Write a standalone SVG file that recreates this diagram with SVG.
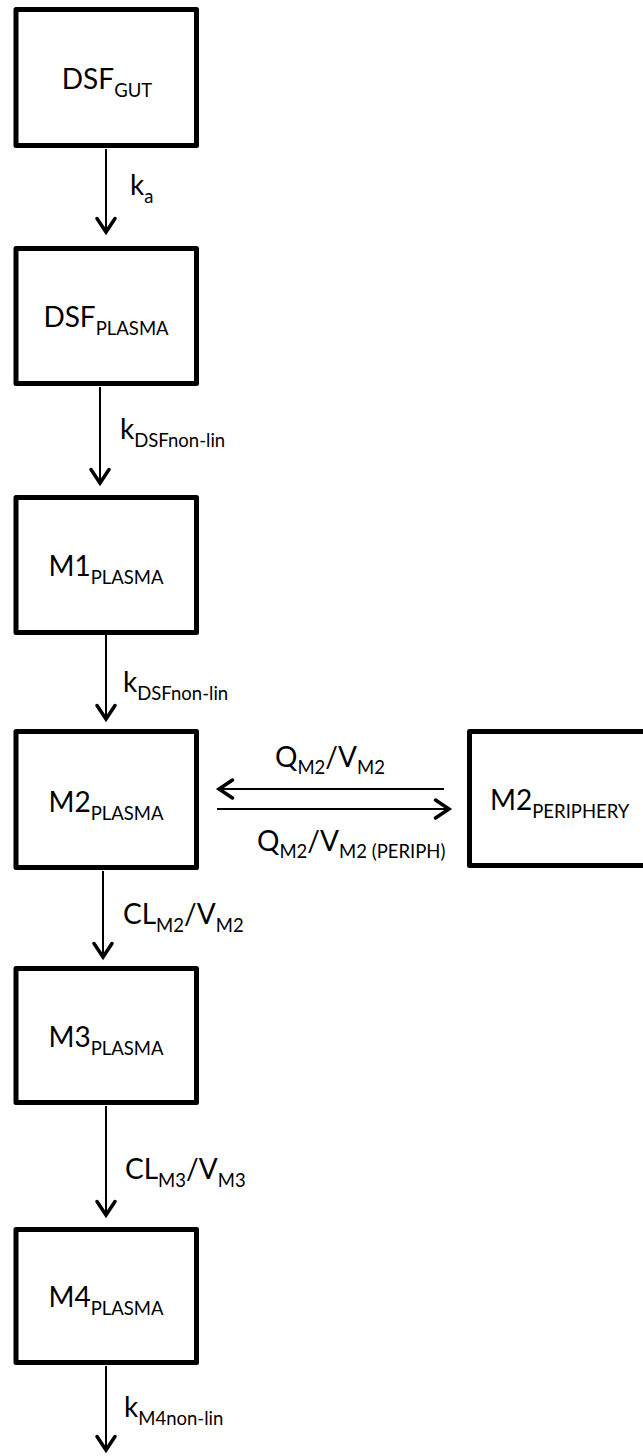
<svg xmlns="http://www.w3.org/2000/svg" width="643" height="1456" viewBox="0 0 643 1456">
  <style>
    .box { fill: #fff; stroke: #000; stroke-width: 5; stroke-linejoin: round; }
    .t { font-family: Lato, "Open Sans", "Liberation Sans", sans-serif; font-size: 28px; fill: #000; }
    .c { text-anchor: middle; }
    .s { font-size: 18.5px; }
    .edge { stroke: #000; stroke-width: 2; fill: none; marker-end: url(#ah); }
  </style>
  <defs>
    <marker id="ah" markerUnits="userSpaceOnUse" orient="auto" viewBox="-20 -15 30 30" markerWidth="30" markerHeight="30" refX="0" refY="0" overflow="visible">
      <path d="M-13.5,-9 L0,0 L-13.5,9" fill="none" stroke="#000" stroke-width="3.5" stroke-linecap="round" stroke-linejoin="miter"/>
    </marker>
  </defs>

  <rect width="643" height="1456" fill="#fff"/>

  <!-- connectors -->
  <g id="connectors">
    <line class="edge" x1="106" y1="149" x2="106" y2="232"/>
    <line class="edge" x1="100" y1="387" x2="100" y2="483"/>
    <line class="edge" x1="106" y1="635" x2="106" y2="719"/>
    <line class="edge" x1="103" y1="871" x2="103" y2="957"/>
    <line class="edge" x1="106" y1="1106" x2="106" y2="1215"/>
    <line class="edge" x1="106" y1="1366" x2="106" y2="1450"/>
    <line class="edge" x1="444" y1="789" x2="219" y2="789"/>
    <line class="edge" x1="217" y1="809" x2="449" y2="809"/>

    <text class="t" x="130" y="195">k<tspan class="s" dy="8">a</tspan></text>
    <text class="t" x="120" y="439">k<tspan class="s" dy="8">DSFnon-lin</tspan></text>
    <text class="t" x="123" y="692">k<tspan class="s" dy="8">DSFnon-lin</tspan></text>
    <text class="t" x="123" y="924">CL<tspan class="s" dy="8">M2</tspan><tspan dy="-8">/V</tspan><tspan class="s" dy="8">M2</tspan></text>
    <text class="t" x="125" y="1179">CL<tspan class="s" dy="8">M3</tspan><tspan dy="-8">/V</tspan><tspan class="s" dy="8">M3</tspan></text>
    <text class="t" x="124" y="1417">k<tspan class="s" dy="8">M4non-lin</tspan></text>
    <text class="t" x="275" y="767">Q<tspan class="s" dy="7">M2</tspan><tspan dy="-7">/V</tspan><tspan class="s" dy="7">M2</tspan></text>
    <text class="t" x="257" y="851">Q<tspan class="s" dy="7">M2</tspan><tspan dy="-7">/V</tspan><tspan class="s" dy="7">M2 (PERIPH)</tspan></text>
  </g>

  <!-- compartments -->
  <g id="dsf-gut">
    <rect class="box" x="16" y="9.5" width="180.5" height="136"/>
    <text class="t c" x="107" y="89">DSF<tspan class="s" dy="8">GUT</tspan></text>
  </g>
  <g id="dsf-plasma">
    <rect class="box" x="16" y="248.5" width="180.5" height="135"/>
    <text class="t c" x="106" y="327">DSF<tspan class="s" dy="8">PLASMA</tspan></text>
  </g>
  <g id="m1-plasma">
    <rect class="box" x="16" y="497.5" width="180.5" height="135"/>
    <text class="t c" x="106" y="576">M1<tspan class="s" dy="8">PLASMA</tspan></text>
  </g>
  <g id="m2-plasma">
    <rect class="box" x="16" y="731.5" width="180.5" height="136"/>
    <text class="t c" x="106" y="812">M2<tspan class="s" dy="8">PLASMA</tspan></text>
  </g>
  <g id="m2-periphery">
    <rect class="box" x="469.5" y="731.5" width="180" height="134"/>
    <text class="t" x="490" y="810">M2<tspan class="s" dy="8">PERIPHERY</tspan></text>
  </g>
  <g id="m3-plasma">
    <rect class="box" x="16" y="968.5" width="180.5" height="134"/>
    <text class="t c" x="106" y="1047">M3<tspan class="s" dy="8">PLASMA</tspan></text>
  </g>
  <g id="m4-plasma">
    <rect class="box" x="16" y="1229.5" width="180.5" height="133"/>
    <text class="t c" x="106" y="1307">M4<tspan class="s" dy="8">PLASMA</tspan></text>
  </g>
</svg>
